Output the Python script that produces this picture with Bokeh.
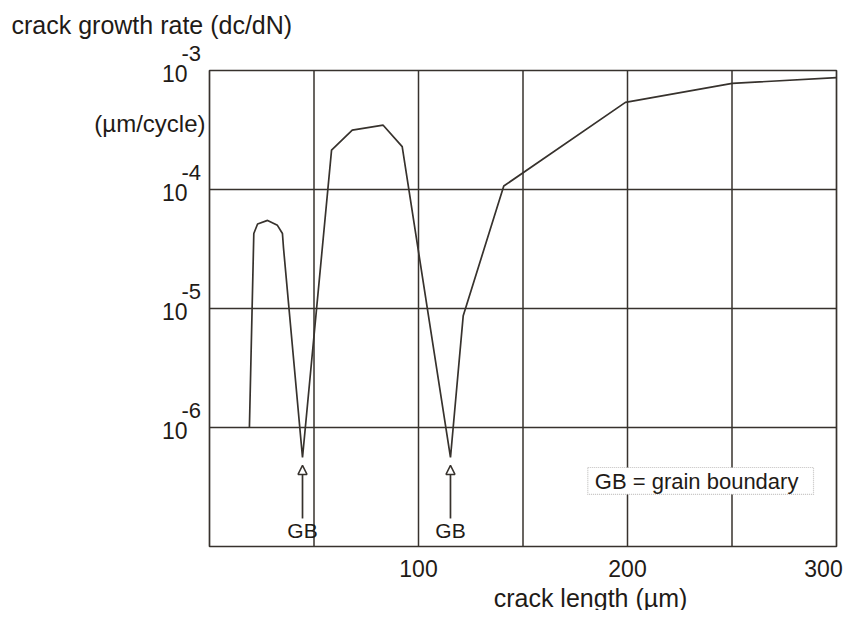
import math
from bokeh.plotting import figure
from bokeh.models import Label, Arrow, NormalHead, BoxAnnotation, Range1d
from bokeh.embed import file_html
from bokeh.resources import INLINE

# ---- data ----
crack_length = [19.1, 21.2, 23.0, 27.8, 32.5, 34.9, 35.4, 44.5, 58.4, 68.3,
                83.1, 92.2, 115.3, 121.4, 140.8, 199.0, 250.1, 300.0]
growth_rate = [1.0e-6, 4.27e-5, 5.13e-5, 5.5e-5, 5.0e-5, 4.27e-5, 3.24e-5, 5.6e-7,
               2.14e-4, 3.16e-4, 3.47e-4, 2.29e-4, 5.6e-7, 8.7e-6, 1.07e-4,
               5.4e-4, 7.8e-4, 8.7e-4]
x_min, x_max = 0, 300
y_min, y_max = 1e-7, 1e-3
x_label_ticks = [100, 200, 300]
x_label_text = ["100", "200", "300"]
x_grid_ticks = [50, 100, 150, 200, 250]
y_decades = [1e-3, 1e-4, 1e-5, 1e-6]
y_exponents = ["-3", "-4", "-5", "-6"]
gb_positions = [44.5, 115.3]
gb_arrow_from = 1.72e-7
gb_arrow_to = 4.8e-7

INK = "#1f1b17"
LINE = "#37322d"
FONT = "Liberation Sans"

W, H = 848, 610
# plot box placement on the canvas (pixels)
BOX_L, BOX_R, BOX_T, BOX_B = 209, 836, 70, 546
px_per_x = (BOX_R - BOX_L) / (x_max - x_min)
px_per_dec = (BOX_B - BOX_T) / (math.log10(y_max) - math.log10(y_min))
xr = Range1d(x_min - BOX_L / px_per_x, x_max + (W - BOX_R) / px_per_x)
yr = Range1d(10 ** (math.log10(y_min) - (H - BOX_B) / px_per_dec),
             10 ** (math.log10(y_max) + BOX_T / px_per_dec))

p = figure(width=W, height=H, output_backend="svg", toolbar_location=None,
           y_axis_type="log", x_range=xr, y_range=yr,
           x_axis_location=None, y_axis_location=None,
           min_border=0, min_border_left=0, min_border_right=0,
           min_border_top=0, min_border_bottom=0,
           background_fill_color="white", border_fill_color="white")
p.outline_line_color = None
p.xgrid.visible = False
p.ygrid.visible = False

# grid lines
n = len(x_grid_ticks)
p.segment(x0=x_grid_ticks, y0=[y_min] * n, x1=x_grid_ticks, y1=[y_max] * n,
          line_color=LINE, line_width=1.5)
hd = y_decades[1:]
p.segment(x0=[x_min] * len(hd), y0=hd, x1=[x_max] * len(hd), y1=hd,
          line_color=LINE, line_width=1.5)
# plot box
p.quad(left=[x_min], right=[x_max], bottom=[y_min], top=[y_max],
       fill_color=None, line_color=LINE, line_width=1.7)

# curve
p.line(crack_length, growth_rate, line_color=LINE, line_width=1.7)

# x tick labels
for xv, xt in zip(x_label_ticks, x_label_text):
    shift = -13 if xv == x_max else 0
    p.add_layout(Label(x=xv, y=y_min, x_offset=shift, y_offset=-22, text=xt,
                       text_align="center", text_baseline="middle", text_font=FONT,
                       text_font_size="23px", text_color=INK))

# y tick labels as 10 with superscript
for dec, ex in zip(y_decades, y_exponents):
    p.add_layout(Label(x=x_min, y=dec, x_offset=-22, y_offset=-3, text="10",
                       text_align="right", text_baseline="middle",
                       text_font=FONT, text_font_size="23px", text_color=INK))
    p.add_layout(Label(x=x_min, y=dec, x_offset=-28, y_offset=17, text=ex,
                       text_align="left", text_baseline="middle",
                       text_font=FONT, text_font_size="22px", text_color=INK))

# title and unit
p.add_layout(Label(x=x_min, y=y_max, x_offset=-198, y_offset=46,
                   text="crack growth rate (dc/dN)", text_align="left",
                   text_baseline="middle", text_font=FONT, text_font_size="25px",
                   text_color=INK))
p.add_layout(Label(x=x_min, y=y_max, x_offset=-4, y_offset=-53, text="(\u00b5m/cycle)",
                   text_align="right", text_baseline="middle", text_font=FONT,
                   text_font_size="24px", text_color=INK))

# x axis label
p.add_layout(Label(x=182.3, y=y_min, y_offset=-51, text="crack length (\u00b5m)",
                   text_align="center", text_baseline="middle", text_font=FONT,
                   text_font_size="25px", text_color=INK))

# GB arrows
for gx in gb_positions:
    p.add_layout(Arrow(x_start=gx, y_start=gb_arrow_from, x_end=gx, y_end=gb_arrow_to,
                       line_color=LINE, line_width=1.7,
                       end=NormalHead(size=9, fill_color="white",
                                      line_color=LINE, line_width=1.5)))
    p.add_layout(Label(x=gx, y=y_min, y_offset=16, text="GB", text_align="center",
                       text_baseline="middle", text_font=FONT,
                       text_font_size="21px", text_color=INK))

# legend box
p.add_layout(BoxAnnotation(left=181.0, right=289.0, bottom=2.74e-7, top=4.61e-7,
                           fill_color="white", fill_alpha=1.0, line_color=LINE,
                           line_dash="1 1", line_width=1.2))
p.add_layout(Label(x=181.0, y=3.55e-7, x_offset=7, text="GB = grain boundary",
                   text_align="left", text_baseline="middle", text_font=FONT,
                   text_font_size="22px", text_color=INK))

open("out.html", "w").write(file_html(p, INLINE))
